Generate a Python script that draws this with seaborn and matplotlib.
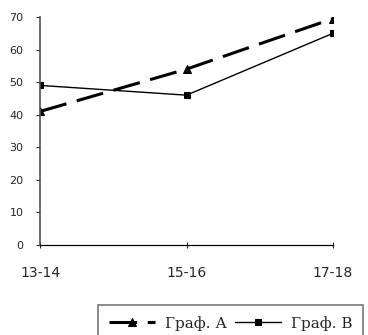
import matplotlib
matplotlib.use("Agg")
import matplotlib.pyplot as plt
import seaborn as sns
import pandas as pd

categories = ["13-14", "15-16", "17-18"]
series_a = [41, 54, 69.5]
series_b = [49, 46, 65]
labels = ["Граф. А", "Граф. В"]

sns.set_style("white")
plt.rcParams['font.family'] = ['DejaVu Sans']

df = pd.DataFrame({
    "x": list(range(len(categories))) * 2,
    "y": series_a + series_b,
    "s": [labels[0]] * 3 + [labels[1]] * 3,
})

fig = plt.figure(figsize=(3.68, 3.35), dpi=100)
ax = fig.add_axes([40/368, 1-245/335, (333-40)/368, (245-17)/335])

sns.lineplot(data=df[df.s == labels[0]], x="x", y="y", ax=ax, color="black",
             linestyle=(0, (9, 3.5)), linewidth=2.2, marker="^", markersize=6,
             markeredgecolor="black", label=labels[0], legend=False)
sns.lineplot(data=df[df.s == labels[1]], x="x", y="y", ax=ax, color="black",
             linestyle="-", linewidth=1.0, marker="s", markersize=5,
             markeredgecolor="black", label=labels[1], legend=False)

ax.set_xlim(0, 2)
ax.set_ylim(0, 70)
ax.set_xticks(range(len(categories)))
ax.set_xticklabels(categories, fontsize=10)
ax.set_yticks(range(0, 71, 10))
ax.tick_params(axis="y", labelsize=8, length=3, direction="out", left=True, width=0.8, pad=9)
ax.tick_params(axis="x", length=4, direction="inout", bottom=True, pad=13, width=0.8)
ax.set_xlabel("")
ax.set_ylabel("")
for s in ["top", "right"]:
    ax.spines[s].set_visible(False)
ax.spines["left"].set_color("#555555")
ax.spines["left"].set_linewidth(1.2)
ax.spines["bottom"].set_color("black")
ax.spines["bottom"].set_linewidth(0.9)

handles, lbls = ax.get_legend_handles_labels()
leg = fig.legend(handles, lbls, loc="upper left", bbox_to_anchor=(98/368, 1-305/335),
                 ncol=2, frameon=True, fancybox=False,
                 prop={"family": "DejaVu Serif", "size": 11},
                 handlelength=3.0, columnspacing=0.5, handletextpad=0.7,
                 borderaxespad=0, borderpad=0.7)
leg.get_frame().set_edgecolor("#555555")
leg.get_frame().set_linewidth(1.2)

fig.savefig("out.png", dpi=100)
